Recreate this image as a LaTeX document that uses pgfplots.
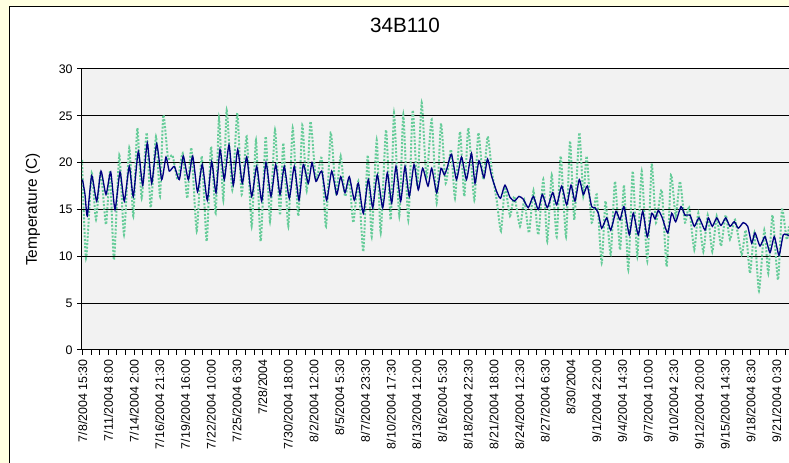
\documentclass[border=0pt]{standalone}
\usepackage{fontspec}
\setmainfont{Liberation Sans}
\usepackage{pgfplots}
\pgfplotsset{compat=1.18}
\definecolor{bgyellow}{RGB}{255,255,225}
\definecolor{plotgray}{RGB}{242,242,242}
\definecolor{navyline}{RGB}{0,0,128}
\definecolor{seagreen}{RGB}{102,204,153}
\begin{document}
\begin{tikzpicture}
\useasboundingbox (0,0) rectangle (591.75pt,347.25pt);
\clip (0,0) rectangle (591.75pt,347.25pt);
\fill[bgyellow] (0,0) rectangle (591.75pt,347.25pt);
\filldraw[fill=white,draw=black,line width=0.75pt] (6.75pt,-10pt) rectangle (620pt,342pt);
\begin{axis}[
  at={(61.5pt,84.75pt)}, anchor=south west,
  scale only axis, width=542.25pt, height=210.75pt,
  xmin=82, xmax=805, ymin=0, ymax=30,
  axis background/.style={fill=plotgray},
  axis line style={black, line width=0.75pt},
  ytick={0,5,...,30},
  xtick={82.7,108.4,...,804},
  xticklabels={7/8/2004 15:30,7/11/2004 8:00,7/14/2004 2:00,7/16/2004 21:30,7/19/2004 16:00,7/22/2004 10:00,7/25/2004 6:30,7/28/2004,7/30/2004 18:00,8/2/2004 12:00,8/5/2004 5:30,8/7/2004 23:30,8/10/2004 17:30,8/13/2004 12:00,8/16/2004 5:30,8/18/2004 22:30,8/21/2004 18:00,8/24/2004 12:30,8/27/2004 6:30,8/30/2004,9/1/2004 22:00,9/4/2004 14:30,9/7/2004 10:00,9/10/2004 2:30,9/12/2004 20:00,9/15/2004 14:30,9/18/2004 8:30,9/21/2004 0:30,{}},
  minor x tick num=2,
  tick align=outside, major tick length=3.5pt, minor tick length=3.5pt,
  tick style={black, line width=0.75pt},
  xtick pos=bottom, ytick pos=left,
  ymajorgrids, major grid style={black, line width=0.75pt},
  /pgf/number format/assume math mode=true,
  tick label style={font=\fontsize{9.3}{11}\selectfont},
  xticklabel style={rotate=90, anchor=east},
  title={34B110},
  title style={at={(axis description cs:0.4467,1.128)}, anchor=center, font=\fontsize{15.5}{18}\selectfont},
  ylabel={Temperature (C)},
  ylabel style={at={(axis description cs:-0.0678,0.5)}, anchor=center, font=\fontsize{11.6}{14}\selectfont},
]
\addplot[seagreen, line width=1.5pt, dash pattern=on 1.5pt off 1.2pt, smooth, tension=0.35] coordinates {
(82,20.3) (86,9.8) (91.7,18.9) (96,13.9) (100.7,19.1) (106,13.4) (110,19.0) (114,9.6)
(119.3,20.8) (124,12.3) (129.3,21.6) (133.3,14.3) (137.3,23.7) (141.7,16.2) (146.7,23.2)
(150.7,15.2) (156,22.8) (160,16.4) (163.3,25.1) (168,20.5) (172.5,20.8) (177.7,18.2)
(182.7,21.0) (187.3,16.2) (191.3,21.6) (196.7,12.7) (201.7,20.7) (206.7,11.6) (211,21.7)
(215.7,14.6) (219,24.8) (223.3,16.0) (226.7,25.6) (232.3,17.1) (237.3,25.3) (241.7,16.6)
(246.7,22.8) (251.7,13.2) (256,22.4) (260.7,11.6) (265.7,22.8) (270,13.7) (275,23.5)
(280,14.4) (283.3,22.1) (288.3,13.2) (292.7,23.7) (298.3,14.3) (302.3,24.0) (306.7,17.0)
(310.5,24.4) (316,18.2) (321.7,20.5) (326,13.2) (330.7,23.2) (336,16.8) (340.7,20.7)
(345,16.4) (349.3,18.2) (353.3,13.6) (358.3,18.0) (363.3,10.5) (367.7,20.8) (371.7,12.1)
(376.7,22.4) (380.7,12.5) (386,23.5) (390.7,13.9) (394,25.3) (399.3,14.3) (403.3,25.1)
(408.3,13.9) (412.7,25.6) (417.3,17.5) (421.7,26.4) (426.5,18.4) (431.7,24.6) (436.7,15.7)
(441,24.2) (445.7,17.8) (451,21.4) (455,16.2) (460,23.3) (464.3,16.4) (468.3,23.7)
(474.3,16.0) (478.3,23.2) (483.3,18.2) (487.7,22.8) (492,19.0) (496.7,16.0) (501,12.7)
(505,17.4) (510,14.3) (514.3,16.4) (520,13.2) (524.3,16.0) (529,12.5) (533.5,17.0)
(538.3,12.3) (543.3,18.2) (547.3,11.6) (551.7,18.7) (556.7,12.1) (560.7,20.7) (566,12.1)
(570,22.3) (574.3,13.9) (579.3,23.2) (583.3,16.4) (586.7,20.7) (591.7,13.6) (596.7,16.6)
(601.7,9.3) (605.5,15.9) (610.7,10.2) (615,18.0) (620,10.7) (624,17.6) (628.3,8.6)
(632.7,19.1) (637.3,10.0) (641.7,19.1) (647.3,9.5) (651.7,19.8) (656,13.6) (661.7,17.1)
(666.7,8.9) (671,18.7) (675.7,14.3) (680,18.0) (685,13.6) (689,15.3) (694.3,10.7)
(698.3,14.6) (703.3,10.5) (707.7,14.4) (712.3,10.5) (716.7,14.3) (721,11.1) (725.7,14.4)
(730,11.8) (735,13.9) (741.7,10.2) (745.7,12.8) (750,8.2) (754.3,12.5) (759,6.3)
(764.3,12.8) (768.3,8.2) (772.5,14.4) (778,7.5) (782,15.0) (786.7,11.8) (789,13.2)
};
\addplot[navyline, line width=1pt, smooth, tension=0.35] coordinates {
(82.5,18.2) (85,16.6) (87.3,14.3) (91.7,18.6) (96.7,15.9) (101,19.1) (106,16.6) (110.7,19.0)
(115,15.0) (120,19.0) (124.3,15.9) (129.3,19.6) (133.3,16.4) (138.3,21.2) (142.7,17.6)
(147.3,22.1) (151.7,17.8) (156.7,22.0) (161.7,18.2) (166,20.6) (169.3,19.1) (174.3,19.6)
(179.3,18.2) (183.3,20.7) (188.3,18.2) (192.7,20.7) (197.5,16.9) (202.3,19.8) (207.3,16.0)
(211.7,20.1) (216,16.8) (220,21.4) (224.3,18.2) (229,21.9) (233.3,17.6) (237.7,21.4)
(242.3,17.8) (246.7,20.6) (251.7,16.4) (256.7,19.6) (261.7,15.9) (266,20.0) (271,16.4)
(275.7,19.8) (280,16.6) (284.3,19.6) (289.3,16.2) (294.3,19.6) (299,16.0) (303.3,19.8)
(308.3,17.8) (312,20.0) (316,18.0) (321.7,19.1) (326.7,16.0) (331.7,19.1) (336.7,16.6)
(340.7,18.5) (345,16.8) (349.3,18.5) (354.3,16.0) (358.3,17.8) (363.3,14.6) (368.3,18.2)
(372.7,15.2) (377.3,18.7) (382.7,15.2) (387.3,18.9) (391.7,15.7) (396,19.6) (400.7,15.9)
(405,19.6) (409.3,16.4) (414,19.8) (418.3,17.1) (422.7,19.4) (428,17.5) (431.7,19.4)
(436.7,16.8) (441,19.4) (444.3,18.7) (447,19.4) (451.5,20.9) (456.5,18.2) (461.5,20.6)
(466.5,18.2) (471.5,21.0) (475,17.8) (479,20.2) (484,18.4) (487.5,20.4) (491.5,18.6)
(496.7,16.9) (500.5,16.2) (505,17.6) (510,16.3) (514.5,15.9) (519,16.4) (523.3,16.1)
(528.3,15.2) (533.3,16.4) (538.3,15.0) (542.3,16.6) (547.3,15.2) (552.7,16.8) (556.7,15.5)
(561.7,17.5) (566.7,15.5) (571,17.6) (575,15.9) (579.3,18.2) (583.3,16.6) (587.3,17.5)
(591.7,15.3) (595,15.2) (598.3,14.6) (601.7,13.0) (606.7,14.1) (610.7,12.8) (616,14.8)
(620,13.9) (624,15.3) (629.3,12.3) (633.3,14.6) (638.3,12.3) (642.7,14.8) (647.3,12.1)
(651.7,14.6) (655,14.0) (658.3,14.9) (662.3,14.1) (667.7,12.5) (671.7,14.6) (675.7,13.7)
(681,15.3) (685,14.4) (690,14.4) (694.3,13.2) (699,14.1) (705,12.8) (708.3,14.1)
(712.3,13.2) (716.7,14.1) (721,13.3) (725.7,14.1) (730,13.2) (734.3,13.7) (738.3,13.0)
(743.3,13.6) (747.7,13.2) (751.7,11.4) (755,12.5) (760,11.1) (765,12.1) (770,10.4)
(774.3,12.1) (779,10.1) (783.3,12.3) (789,12.2)
};
\end{axis}
\end{tikzpicture}
\end{document}
